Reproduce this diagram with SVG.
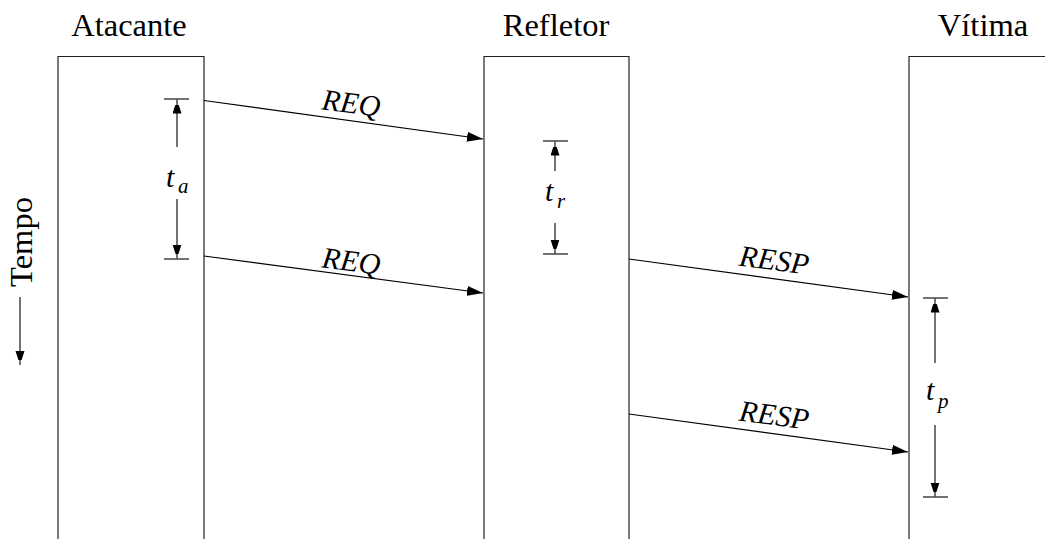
<svg xmlns="http://www.w3.org/2000/svg" width="1045" height="539" viewBox="0 0 1045 539">
<style>
.box{fill:none;stroke:#222;stroke-width:1.2}
.ln{stroke:#000;stroke-width:1.1;fill:none}
.tk{stroke:#000;stroke-width:1.1}
.t{font-family:"Liberation Serif",serif;font-size:32.5px;fill:#000}
.i{font-family:"Liberation Serif",serif;font-style:italic;font-size:30px;fill:#000}
.s{font-family:"Liberation Serif",serif;font-style:italic;font-size:21px;fill:#000}
</style>
<defs>
<marker id="ah" markerWidth="16" markerHeight="10" refX="16" refY="5" orient="auto" markerUnits="userSpaceOnUse">
<path d="M0,0 L16,5 L0,10 Z" fill="#000"/>
</marker>
<marker id="sh" markerWidth="9" markerHeight="14" refX="14" refY="4.5" orient="auto" markerUnits="userSpaceOnUse">
<path d="M0,0 L14,4.5 L0,9 Z" fill="#000"/>
</marker>
</defs>
<g id="atacante">
<path class="box" d="M58,539 V56.5 H204 V539"/>
<text class="t" x="129" y="36" text-anchor="middle">Atacante</text>
</g>
<g id="refletor">
<path class="box" d="M484,539 V56.5 H629 V539"/>
<text class="t" x="556" y="36" text-anchor="middle">Refletor</text>
</g>
<g id="vitima">
<path class="box" d="M909,539 V56.5 H1055 V539"/>
<text class="t" x="983" y="36" text-anchor="middle">Vítima</text>
</g>
<g id="tempo">
<text class="t" transform="translate(32,242) rotate(-90)" text-anchor="middle">Tempo</text>
<line class="ln" x1="20" y1="297" x2="20" y2="365" marker-end="url(#sh)"/>
</g>
<g id="connectors">
<line class="ln" x1="204" y1="100.5" x2="483" y2="139" marker-end="url(#ah)"/>
<line class="ln" x1="204" y1="256" x2="483" y2="293" marker-end="url(#ah)"/>
<line class="ln" x1="629" y1="259" x2="908" y2="297" marker-end="url(#ah)"/>
<line class="ln" x1="629" y1="414" x2="908" y2="452" marker-end="url(#ah)"/>
<text class="i" text-anchor="middle" transform="translate(350,113) rotate(7.5)">REQ</text>
<text class="i" text-anchor="middle" transform="translate(350,271) rotate(7.5)">REQ</text>
<text class="i" text-anchor="middle" transform="translate(773,270) rotate(7.5)">RESP</text>
<text class="i" text-anchor="middle" transform="translate(773,425) rotate(7.5)">RESP</text>
</g>
<g id="ta">
<line class="tk" x1="164" y1="99" x2="189" y2="99"/>
<line class="tk" x1="164" y1="259" x2="189" y2="259"/>
<line class="ln" x1="177" y1="147" x2="177" y2="99.5" marker-end="url(#sh)"/>
<line class="ln" x1="177" y1="199" x2="177" y2="258.5" marker-end="url(#sh)"/>
<text class="i" x="166" y="187" font-size="34">t</text>
<text class="s" x="178" y="193">a</text>
</g>
<g id="tr">
<line class="tk" x1="543" y1="141" x2="568" y2="141"/>
<line class="tk" x1="543" y1="254" x2="568" y2="254"/>
<line class="ln" x1="555" y1="171" x2="555" y2="141.5" marker-end="url(#sh)"/>
<line class="ln" x1="555" y1="223" x2="555" y2="253.5" marker-end="url(#sh)"/>
<text class="i" x="545" y="201" font-size="34">t</text>
<text class="s" x="557" y="208">r</text>
</g>
<g id="tp">
<line class="tk" x1="923" y1="298" x2="948" y2="298"/>
<line class="tk" x1="923" y1="497" x2="948" y2="497"/>
<line class="ln" x1="935" y1="363" x2="935" y2="298.5" marker-end="url(#sh)"/>
<line class="ln" x1="935" y1="425" x2="935" y2="496.5" marker-end="url(#sh)"/>
<text class="i" x="926" y="400" font-size="34">t</text>
<text class="s" x="938" y="408">p</text>
</g>
</svg>
